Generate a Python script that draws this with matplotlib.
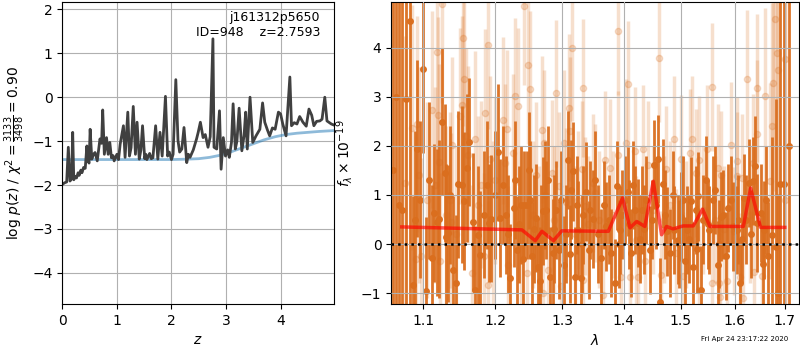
import matplotlib
matplotlib.use('Agg')
import matplotlib.pyplot as plt
from matplotlib.ticker import ScalarFormatter, NullLocator

# left panel: log p(z) and the prior-like smooth curve
z_grid = [0.007, 0.04, 0.08, 0.11, 0.14, 0.17, 0.19, 0.21, 0.24, 0.26, 0.29, 0.31, 0.34, 0.36,
          0.39, 0.42, 0.45, 0.47, 0.49, 0.51, 0.54, 0.57, 0.60, 0.64, 0.69, 0.72, 0.74, 0.77,
          0.81, 0.84, 0.87, 0.90, 0.93, 0.95, 1.00, 1.03, 1.06, 1.12, 1.15, 1.20, 1.23, 1.26,
          1.30, 1.34, 1.37, 1.41, 1.44, 1.47, 1.51, 1.53, 1.55, 1.60, 1.63, 1.66, 1.71, 1.75,
          1.79, 1.83, 1.89, 1.93, 1.96, 2.00, 2.03, 2.08, 2.12, 2.15, 2.19, 2.23, 2.28, 2.31,
          2.34, 2.40, 2.46, 2.49, 2.53, 2.58, 2.62, 2.67, 2.71, 2.76, 2.78, 2.83, 2.88, 2.91,
          2.95, 2.99, 3.03, 3.06, 3.10, 3.13, 3.17, 3.20, 3.24, 3.29, 3.33, 3.36, 3.39, 3.44,
          3.49, 3.55, 3.62, 3.67, 3.71, 3.76, 3.80, 3.85, 3.90, 3.96, 4.00, 4.04, 4.10, 4.17,
          4.20, 4.25, 4.30, 4.35, 4.41, 4.47, 4.52, 4.57, 4.61, 4.66, 4.72, 4.76, 4.81, 4.85,
          4.93, 4.97]
logp = [-1.98, -1.95, -1.93, -1.14, -1.91, -1.86, -0.80, -1.88, -1.80, -1.84, -1.72, -1.78, -1.66, -1.72,
        -1.60, -1.62, -1.11, -1.45, -1.50, -0.73, -1.41, -1.30, -1.26, -1.45, -0.95, -1.05, -0.29, -1.30,
        -0.92, -1.30, -1.03, -1.38, -1.33, -1.45, -1.30, -1.42, -1.07, -0.65, -1.37, -0.34, -1.34, -1.15,
        -0.21, -1.30, -0.57, -1.41, -1.20, -0.65, -1.40, -1.30, -1.42, -1.28, -1.40, -1.38, -0.65, -1.41,
        -0.80, -1.34, 0.02, -1.34, -1.25, -1.42, -1.30, 0.40, -0.99, -1.25, -1.18, -0.69, -1.49, -1.30,
        -1.37, -1.20, -0.95, -0.80, -0.57, -0.92, -0.85, -1.14, -0.90, 1.33, -1.14, -1.18, -0.31, -1.64,
        -0.92, -1.34, -1.20, -1.37, -1.03, -0.15, -1.18, -1.00, -0.25, -1.22, -0.88, -0.34, -1.18, 0.00,
        -1.03, -0.88, -0.73, -0.13, -0.57, -0.75, -0.88, -0.70, -0.73, -0.34, -0.38, -0.61, -0.88, 0.46,
        -0.65, -0.58, -0.61, -0.44, -0.57, -0.66, -0.27, -0.41, -0.65, -0.55, -0.54, -0.50, 0.00, -0.54,
        -0.61, -0.63]

z_prior = [0.0, 0.5, 1.0, 1.5, 2.0, 2.3, 2.5, 2.7, 2.9, 3.1, 3.3, 3.5, 3.7, 3.9, 4.1, 4.3, 4.5, 4.7, 4.97]
logp_prior = [-1.42, -1.42, -1.42, -1.42, -1.42, -1.41, -1.40, -1.37, -1.32, -1.24, -1.15, -1.06,
              -0.97, -0.90, -0.85, -0.82, -0.80, -0.78, -0.76]

# right panel: spectrum, in units of 1e-19
# dark points (strong), first group
wave_a = [1.0605, 1.0645, 1.0685, 1.0720, 1.0778, 1.0821, 1.0865,
          1.0895, 1.0925, 1.0960, 1.1004, 1.1035, 1.1075, 1.1112, 1.1146, 1.1183, 1.1218, 1.1259, 1.1290,
          1.1304, 1.1327, 1.1365, 1.1408, 1.1450, 1.1477, 1.1524, 1.1560, 1.1602, 1.1630, 1.1677, 1.1714,
          1.1747, 1.1780, 1.1830, 1.1876, 1.1904, 1.1942, 1.1990, 1.2038, 1.2071, 1.2110, 1.2158, 1.2216,
          1.2264, 1.2313, 1.2375, 1.2424, 1.2468, 1.2507, 1.2541, 1.2595, 1.2630, 1.2655, 1.2704, 1.2754,
          1.2778, 1.2808, 1.2853, 1.2904, 1.2953, 1.3029, 1.3090, 1.3146, 1.3181, 1.3207, 1.3258, 1.3294,
          1.3335, 1.3377, 1.3423, 1.3490, 1.3532, 1.3580, 1.3629, 1.3711, 1.3794, 1.3849, 1.3887, 1.3945,
          1.4017, 1.4073, 1.4131, 1.4187, 1.4243, 1.4318, 1.4387, 1.4444, 1.4491, 1.4531, 1.4589, 1.4636,
          1.4688, 1.4753, 1.4806, 1.4882, 1.4941, 1.5001, 1.5078, 1.5119, 1.5181, 1.5228, 1.5271, 1.5318,
          1.5362, 1.5410, 1.5459, 1.5521, 1.5582, 1.5676, 1.5738, 1.5788, 1.5844, 1.5882, 1.5976, 1.6040,
          1.6103, 1.6193, 1.6276, 1.6359, 1.6436, 1.6514, 1.6586, 1.6665, 1.6730, 1.6817, 1.6863, 1.6897,
          1.6985, 1.7075]
flux_a = [1.5, 3.0, 0.8, 0.70, 2.95, 4.54, -0.83,
          0.5, 1.94, 0.9, 3.56, -0.95, 1.3, -0.29, 0.63, 0.44, 0.51, 2.49, 1.45,
          0.14, 0.22, 1.0, -0.52, -0.80, 1.22, 1.21, 0.88, 1.55, 2.08, 0.45, -0.93,
          0.19, -0.22, 0.6, 1.21, 0.43, 0.52, 1.0, 1.87, 0.53, 1.2, 0.60, -0.69,
          0.73, -0.13, 0.79, 0.79, 0.79, 0.90, -0.25, 0.53, -0.46, -0.76, 0.68, 0.69,
          1.31, -0.66, -0.18, 0.70, -0.12, -0.42, 1.71, 1.11, 1.48, -0.66, 0.29, -0.69,
          0.60, 1.07, -0.12, 0.51, 1.31, 0.2, -0.29, 0.36, -0.18, -0.80, 1.19, 0.29,
          0.90, 1.07, -0.18, 0.70, 0.43, 0.70, 0.90, -0.12, 0.50, 1.62, 1.73, -1.18,
          1.23, 0.26, -0.18, 0.29, 0.09, 0.56, -0.35, 0.29, 0.87, -0.46, 0.70, 0.97,
          -0.93, 0.5, 1.31, 0.29, 0.90, -0.42, 0.56, 0.60, -0.24, 0.73, 0.36, 0.29,
          -0.80, 0.94, 1.24, 1.28, 0.43, 0.63, 0.29, -0.25, 0.19, -0.05, -0.99, 1.22,
          1.22, 2.0]
err_a = [12, 12, 12, 12, 10, 8, 1.8,
         1.8, 1.8, 1.6, 1.7, 1.5, 1.6, 1.5, 1.4, 1.5, 1.6, 1.5, 1.4,
         1.5, 1.4, 1.4, 1.5, 1.4, 1.5, 1.6, 1.4, 1.5, 1.3, 1.4, 1.3,
         1.4, 1.3, 1.3, 1.3, 1.2, 1.3, 1.3, 1.4, 1.2, 1.2, 1.2, 1.1,
         1.2, 1.1, 1.2, 1.1, 1.1, 1.2, 1.1, 1.1, 1.0, 1.1, 1.1, 1.0,
         1.1, 1.0, 1.1, 1.0, 1.0, 1.0, 1.0, 1.0, 1.0, 1.0, 1.0, 1.0,
         1.0, 1.0, 1.0, 1.0, 1.0, 1.0, 1.0, 0.9, 0.9, 0.9, 0.9, 0.9,
         0.9, 0.9, 0.9, 0.9, 0.9, 0.9, 0.9, 0.9, 0.8, 0.9, 0.9, 0.9,
         0.9, 0.9, 0.9, 0.9, 0.9, 0.9, 0.9, 0.9, 0.9, 0.9, 0.9, 0.9,
         0.9, 0.9, 0.9, 0.9, 0.9, 0.9, 0.9, 0.9, 0.9, 0.9, 0.9, 0.9,
         0.9, 0.9, 0.9, 0.9, 1.0, 1.0, 1.0, 1.1, 2.0, 3.0, 2.0, 8,
         10, 12]

# dark points (strong), second group
wave_c = [1.2185, 1.2290, 1.2340, 1.2400, 1.2490, 1.2570, 1.2680, 1.2730, 1.2880, 1.2990, 1.3060,
          1.3120, 1.3230, 1.3315, 1.3450, 1.3670, 1.3750, 1.3920, 1.3980, 1.4100, 1.4160, 1.4280,
          1.4350, 1.4560, 1.4720, 1.4850, 1.4970, 1.5040, 1.5150, 1.5295, 1.5490, 1.5630, 1.5710,
          1.5930, 1.6070, 1.6150, 1.6230, 1.6320, 1.6400, 1.6550, 1.6620]
flux_c = [0.2, 1.3, 0.4, -0.3, 1.5, 0.3, 0.1, 1.0, 0.3, 0.9, 0.2,
          -0.2, 0.8, 0.0, 0.7, 0.8, 0.5, 0.0, 0.6, 0.4, 1.2, 0.1,
          0.3, 0.8, 0.6, 1.0, 0.0, 0.9, 0.1, -0.1, 0.4, 1.1, 0.0,
          0.9, 0.5, 0.1, 0.5, 0.2, 1.6, -0.4, 0.9]
err_c = [1.2, 1.2, 1.2, 1.1, 1.2, 1.1, 1.1, 1.1, 1.1, 1.0, 1.0,
         1.0, 1.0, 1.0, 1.0, 0.9, 0.9, 0.9, 0.9, 0.9, 0.9, 0.9,
         0.9, 0.9, 0.9, 0.9, 0.9, 0.9, 0.9, 0.9, 0.9, 0.9, 0.9,
         0.9, 0.9, 0.9, 0.9, 0.9, 1.0, 1.0, 1.1]

# light points (faint)
wave_b = [1.0764, 1.0853, 1.0900, 1.0925, 1.0950, 1.0973, 1.1050, 1.1116, 1.1160, 1.1190, 1.1203, 1.1217,
          1.1226, 1.1257, 1.1300, 1.1359, 1.1368, 1.1390, 1.1440, 1.1493, 1.1524, 1.1547, 1.1560, 1.1583,
          1.1614, 1.1672, 1.1709, 1.1750, 1.1786, 1.1831, 1.1845, 1.1886, 1.1890, 1.1923, 1.1960, 1.2000,
          1.2105, 1.2143, 1.2168, 1.2189, 1.2250, 1.2279, 1.2337, 1.2380, 1.2424, 1.2459, 1.2482, 1.2507,
          1.2550, 1.2605, 1.2650, 1.2693, 1.2704, 1.2728, 1.2778, 1.2838, 1.2880, 1.2913, 1.2953, 1.2978,
          1.3029, 1.3064, 1.3116, 1.3121, 1.3156, 1.3200, 1.3250, 1.3325, 1.3335, 1.3340, 1.3361, 1.3420,
          1.3490, 1.3530, 1.3600, 1.3656, 1.3684, 1.3766, 1.3820, 1.3904, 1.3910, 1.3962, 1.4045, 1.4073,
          1.4101, 1.4187, 1.4215, 1.4243, 1.4329, 1.4364, 1.4415, 1.4500, 1.4606, 1.4643, 1.4700, 1.4735,
          1.4800, 1.4882, 1.4911, 1.5001, 1.5031, 1.5100, 1.5163, 1.5200, 1.5271, 1.5331, 1.5335, 1.5400,
          1.5484, 1.5563, 1.5565, 1.5620, 1.5676, 1.5707, 1.5725, 1.5738, 1.5800, 1.5863, 1.5927, 1.5989,
          1.6040, 1.6052, 1.6115, 1.6145, 1.6164, 1.6243, 1.6300, 1.6366, 1.6370, 1.6436, 1.6440, 1.6533,
          1.6602, 1.6697, 1.6730, 1.6764, 1.6797, 1.6843, 1.6860, 1.6998, 1.7000]
flux_b = [1.24, 2.37, -0.3, 2.45, 1.40, -0.25, 0.9, 2.74, 1.2, 3.92, 2.62, 1.67,
          -0.35, 4.88, 0.6, 0.90, 0.46, 2.01, 0.2, 2.61, 2.84, 4.20, 3.37, 2.20,
          1.82, -0.59, 2.13, 0.8, 1.21, -0.25, 2.67, 4.05, -0.83, 1.73, 0.4, 1.3,
          2.52, 1.65, 2.35, -0.42, 1.86, 3.01, 2.81, 0.3, 4.84, -0.59, 3.64, 3.15,
          0.6, 1.40, 0.1, 2.33, -1.00, 2.05, -0.52, 1.44, 0.5, 3.07, 1.18, -0.86,
          2.05, 0.86, 2.78, 2.30, 4.00, 0.2, 0.9, 1.52, 3.18, -0.73, 0.78, 0.4,
          1.24, 1.04, 0.5, -1.03, 1.72, 1.55, 0.6, 4.33, 1.82, -0.66, 2.06, 3.25,
          -0.66, 1.90, 0.09, -0.66, 1.93, -0.35, 1.61, 0.7, 3.78, -0.63, 0.5, 1.52,
          0.8, 2.13, -0.18, 1.74, -0.65, 0.4, 1.86, 2.13, 1.45, 1.72, -0.93, 0.7,
          1.93, 3.20, -0.80, 0.5, 1.55, -0.80, -1.07, 1.41, 0.3, -0.76, 2.01, 0.26,
          1.69, 1.38, -0.66, 1.35, -1.10, 3.37, 0.6, 1.65, -0.56, 3.18, 2.25, -0.65,
          3.01, 1.28, 2.40, 3.29, 4.58, 3.90, 3.54, 0.90, 3.76]
err_b = [3.0, 2.5, 2.5, 2.2, 2.2, 2.0, 2.0, 2.0, 2.0, 2.0, 2.0, 2.0,
         1.8, 2.0, 1.8, 1.8, 1.8, 1.8, 1.8, 1.8, 1.8, 1.8, 1.8, 1.8,
         1.8, 1.8, 1.8, 1.8, 1.7, 1.7, 1.7, 1.7, 1.7, 1.7, 1.7, 1.7,
         1.7, 1.6, 1.6, 1.6, 1.6, 1.6, 1.6, 1.6, 1.6, 1.6, 1.6, 1.6,
         1.5, 1.5, 1.5, 1.5, 1.5, 1.5, 1.5, 1.5, 1.5, 1.5, 1.5, 1.5,
         1.5, 1.5, 1.5, 1.5, 1.5, 1.4, 1.4, 1.4, 1.4, 1.4, 1.4, 1.4,
         1.4, 1.4, 1.4, 1.4, 1.4, 1.4, 1.3, 1.3, 1.3, 1.3, 1.3, 1.3,
         1.3, 1.3, 1.3, 1.3, 1.3, 1.3, 1.3, 1.3, 1.3, 1.3, 1.3, 1.3,
         1.3, 1.3, 1.3, 1.3, 1.3, 1.3, 1.3, 1.3, 1.3, 1.3, 1.3, 1.3,
         1.3, 1.3, 1.3, 1.3, 1.3, 1.3, 1.3, 1.3, 1.3, 1.3, 1.3, 1.3,
         1.3, 1.3, 1.3, 1.3, 1.3, 1.4, 1.4, 1.4, 1.4, 1.5, 1.5, 1.6,
         1.8, 2.0, 2.5, 3.0, 3.5, 4.0, 4.0, 5.0, 5.0]

# best-fit model
wave_model = [1.072, 1.2388, 1.2588, 1.269, 1.2868, 1.2997, 1.3746, 1.3984, 1.4109, 1.4222, 1.4364,
              1.4509, 1.4655, 1.4743, 1.486, 1.504, 1.5224, 1.5397, 1.5532, 1.6171, 1.6313, 1.6509, 1.6998]
flux_model = [0.35, 0.29, 0.07, 0.26, 0.07, 0.27, 0.26, 0.94, 0.33, 0.46, 0.36,
              1.28, 0.19, 0.36, 0.31, 0.37, 0.37, 0.71, 0.36, 0.36, 1.14, 0.34, 0.34]

dark_orange = '#da6e1e'

fig = plt.figure(figsize=(8, 3.5), dpi=100)
ax1 = fig.add_axes([0.0779, 0.1314, 0.339, 0.8643])
ax2 = fig.add_axes([0.489, 0.1314, 0.5097, 0.8643])

# --- p(z)
ax1.plot(z_prior, logp_prior, color='#1f77b4', alpha=0.5, lw=2)
ax1.plot(z_grid, logp, color='0.25', lw=2)
ax1.set_xlim(0, 4.97)
ax1.set_ylim(-4.71, 2.18)
ax1.set_xticks([0, 1, 2, 3, 4])
ax1.set_yticks([-4, -3, -2, -1, 0, 1, 2])
ax1.grid()
ax1.set_xlabel('$z$')
ax1.set_ylabel(r'$\log\,p(z)$ / $\chi^2=\frac{3133}{3498}=0.90$')
ax1.text(0.95, 0.97, 'j161312p5650\nID=948    z=2.7593', transform=ax1.transAxes,
         ha='right', va='top', fontsize=9)

# --- spectrum
ax2.errorbar(wave_b, flux_b, yerr=err_b, fmt='o', color=dark_orange, alpha=0.22,
             ms=4.5, elinewidth=2.5)
for w, f, e in [(wave_a, flux_a, err_a), (wave_c, flux_c, err_c)]:
    ax2.errorbar(w, f, yerr=e, fmt='o', color=dark_orange, alpha=0.95,
                 ms=4, elinewidth=2)
ax2.plot(wave_model, flux_model, color='r', alpha=0.65, lw=2.5, zorder=4)
ax2.axhline(0, color='k', ls=':', lw=1.8, zorder=5)
ax2.set_xscale('log')
ax2.set_xlim(1.0585, 1.729)
ax2.set_ylim(-1.22, 4.94)
ax2.set_xticks([1.1, 1.2, 1.3, 1.4, 1.5, 1.6, 1.7])
ax2.xaxis.set_major_formatter(ScalarFormatter())
ax2.xaxis.set_minor_locator(NullLocator())
ax2.set_yticks([-1, 0, 1, 2, 3, 4])
ax2.set_axisbelow(False)
ax2.grid()
ax2.set_xlabel(r'$\lambda$')
ax2.set_ylabel(r'$f_\lambda\times10^{-19}$')

fig.text(0.985, 0.022, 'Fri Apr 24 23:17:22 2020', ha='right', va='bottom', fontsize=5)

fig.savefig('out.png', dpi=100)
